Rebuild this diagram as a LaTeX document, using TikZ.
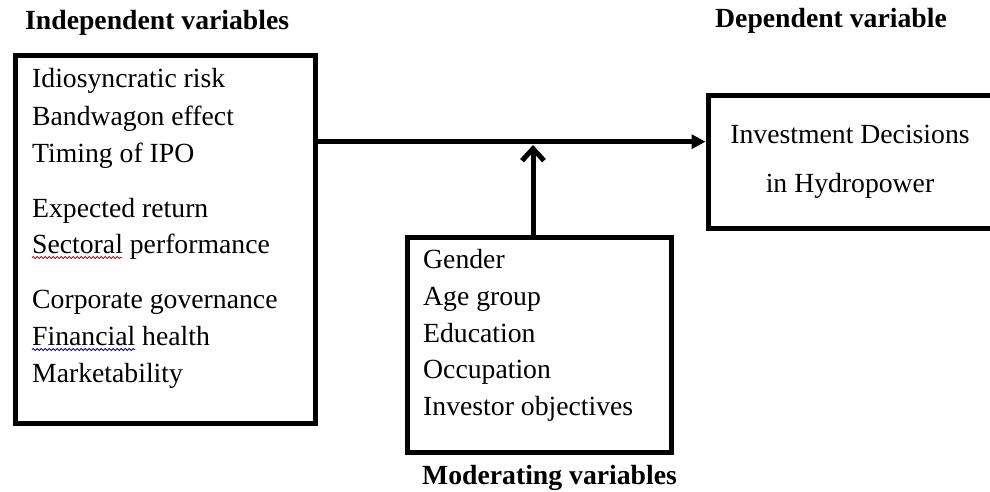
\documentclass[tikz,border=0pt]{standalone}
\usepackage{fontspec}
\setmainfont{Liberation Serif}
\usetikzlibrary{arrows.meta,decorations.pathmorphing}
\begin{document}
\begin{tikzpicture}[x=1pt,y=-1pt,
  txt/.style={anchor=base west,inner sep=0,font=\fontsize{27.7}{33}\selectfont},
  ctxt/.style={anchor=base,inner sep=0,font=\fontsize{27.7}{33}\selectfont},
  ttl/.style={anchor=base west,inner sep=0,font=\fontsize{27.7}{33}\selectfont\bfseries},
  boxs/.style={draw,line width=5pt,inner sep=0,anchor=north west},
  conn/.style={line width=5pt},
  squig/.style={line width=0.9pt,decorate,decoration={snake,amplitude=0.9pt,segment length=4pt}}
]
\useasboundingbox (0,0) rectangle (990,492);
\clip (0,0) rectangle (990,492);
% titles
\node[ttl] (t1) at (25,30) {Independent variables};
\node[ttl] (t2) at (715,28) {Dependent variable};
\node[ttl] (t3) at (422,484) {Moderating variables};
% boxes
\node[boxs,minimum width=300pt,minimum height=367pt] (ind) at (12.5,53.5) {};
\node[boxs,minimum width=300pt,minimum height=132.5pt] (dep) at (705.5,93) {};
\node[boxs,minimum width=264.5pt,minimum height=215pt] (mod) at (404.5,234.5) {};
% left texts
\node[txt] (a1) at (32,88) {Idiosyncratic risk};
\node[txt] (a2) at (32,125) {Bandwagon effect};
\node[txt] (a3) at (32,162) {Timing of IPO};
\node[txt] (a4) at (32,217) {Expected return};
\node[txt] (a5) at (32,253) {Sectoral performance};
\node[txt] (a6) at (32,308) {Corporate governance};
\node[txt] (a7) at (32,345) {Financial health};
\node[txt] (a8) at (32,382) {Marketability};
% middle texts
\node[txt] (b1) at (423,268) {Gender};
\node[txt] (b2) at (423,305) {Age group};
\node[txt] (b3) at (423,342) {Education};
\node[txt] (b4) at (423,378) {Occupation};
\node[txt] (b5) at (423,415) {Investor objectives};
% right texts
\node[ctxt] (c1) at (850,143) {Investment Decisions};
\node[ctxt] (c2) at (850,192) {in Hydropower};
% squiggles
\coordinate (s1a) at (32,257.5); \coordinate (s1b) at (122,257.5);
\coordinate (s2a) at (32,349.5); \coordinate (s2b) at (135,349.5);
\draw[squig,red!90!black] (s1a) -- (s1b);
\draw[squig,blue!80!black] (s2a) -- (s2b);
% connectors
\coordinate (hs) at (318,141.7);
\coordinate (he) at (dep.west |- hs);
\draw[conn,-{Triangle[length=14pt,width=14pt]}] (hs) -- (he);
\coordinate (vs) at (533,234.5);
\coordinate (ve) at (533,145);
\draw[conn,-{Straight Barb[length=12pt,width=22pt]}] (vs) -- (ve);
\end{tikzpicture}
\end{document}
